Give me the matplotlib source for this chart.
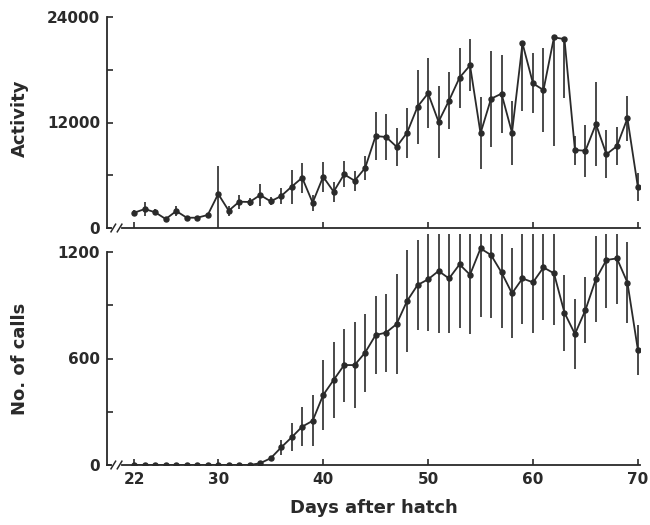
import numpy as np
import matplotlib.pyplot as plt
from matplotlib.ticker import MultipleLocator

# ------------------------------------------
# data (days 22..70)
# ------------------------------------------
DAYS = list(range(22, 71))

ACTIVITY = [1740, 2160, 1780, 1020, 1930, 1170, 1170, 1480, 3870, 1970,
            2990, 2960, 3750, 3030, 3640, 4700, 5720, 2880, 5830, 4130,
            6100, 5380, 6820, 10460, 10350, 9240, 10840, 13800, 15320, 12090,
            14500, 17100, 18500, 10770, 14700, 15280, 10840, 21000, 16450, 15690,
            21680, 21490, 8870, 8790, 11820, 8380, 9320, 12470, 4630]
ACTIVITY_ERR = [300, 800, 350, 200, 600, 100, 150, 200, 3200, 570,
                800, 450, 1250, 450, 900, 1930, 1700, 900, 1700, 1140,
                1480, 1140, 1360, 2700, 2600, 2160, 2840, 4200, 4000, 4100,
                3200, 3400, 2950, 4100, 5460, 4430, 3640, 7700, 3400, 4780,
                12300, 6700, 1650, 2960, 4780, 2730, 2160, 2600, 1600]

CALLS = [0, 0, 0, 0, 0, 0, 0, 0, 0, 0,
         0, 0, 10, 38, 99, 156, 216, 249, 394, 479,
         563, 563, 633, 732, 746, 794, 924, 1014, 1046, 1093,
         1051, 1130, 1072, 1220, 1183, 1085, 967, 1051, 1029, 1113,
         1080, 858, 738, 873, 1048, 1155, 1164, 1028, 648]
CALLS_ERR = [0, 0, 0, 0, 0, 0, 0, 0, 0, 0,
             0, 0, 0, 10, 42, 78, 108, 143, 197, 216,
             206, 242, 220, 220, 220, 282, 289, 253, 290, 350,
             310, 357, 334, 385, 353, 312, 253, 258, 287, 295,
             293, 214, 196, 188, 240, 268, 259, 230, 139]

X_TICKS = [22, 30, 40, 50, 60, 70]
ACT_TICKS = [0, 12000, 24000]
CALL_TICKS = [0, 600, 1200]

INK = '#2a2a2a'
W, H = 650, 525
XLIM = (19.4, 70.2)


def draw_break(ax):
    # the little "//" on the x axis just right of the corner
    trans = ax.get_xaxis_transform()
    hpx = ax.get_position().height * H
    dy = 3.8 / hpx
    ax.plot([20.05, 20.55], [0, 0], color='white', lw=3, transform=trans,
            clip_on=False, zorder=5)
    for x0 in (20.0, 20.6):
        ax.plot([x0 - 0.22, x0 + 0.22], [-dy, dy], color=INK, lw=1.1,
                transform=trans, clip_on=False, zorder=6)


def style_axis(ax, ytop):
    for side in ('top', 'right'):
        ax.spines[side].set_visible(False)
    for side in ('left', 'bottom'):
        ax.spines[side].set_linewidth(1.3)
        ax.spines[side].set_color(INK)
    ax.spines['left'].set_bounds(0, ytop)
    ax.tick_params(which='both', direction='in', length=4, width=1.2,
                   color=INK, labelcolor=INK, labelsize=11, pad=5)
    ax.set_xlim(*XLIM)
    ax.set_xticks(X_TICKS)
    for lab in ax.get_xticklabels() + ax.get_yticklabels():
        lab.set_fontweight('bold')


fig = plt.figure(figsize=(W / 100, H / 100), dpi=100)
ax1 = fig.add_axes([107 / W, 1 - 228 / H, 533 / W, 211 / H])
ax2 = fig.add_axes([107 / W, 1 - 465 / H, 533 / W, 230.75 / H])

# --- activity (top) ---
act = np.array(ACTIVITY)
act_err = np.array(ACTIVITY_ERR)
# upper whiskers that would run past the top of the axis are not drawn
act_err_hi = np.where(act + act_err > 24000, 0, act_err)
ax1.errorbar(DAYS, act, yerr=[act_err, act_err_hi], fmt='-o', color=INK,
             ecolor=INK, elinewidth=1.2, capsize=0, markersize=3.6, lw=1.3)
ax1.set_ylim(0, 24000)
style_axis(ax1, 24000)
ax1.set_yticks(ACT_TICKS)
ax1.yaxis.set_minor_locator(MultipleLocator(6000))
ax1.tick_params(axis='x', labelbottom=False)
ax1.set_ylabel('Activity', fontsize=13, fontweight='bold', color=INK)
ax1.yaxis.set_label_coords(-0.147, 0.52)
draw_break(ax1)

# --- number of calls (bottom) ---
ax2.errorbar(DAYS, CALLS, yerr=CALLS_ERR, fmt='-o', color=INK, ecolor=INK,
             elinewidth=1.2, capsize=0, markersize=3.6, lw=1.3)
ax2.set_ylim(0, 1300)
style_axis(ax2, 1200)
ax2.set_yticks(CALL_TICKS)
ax2.yaxis.set_minor_locator(MultipleLocator(300))
ax2.set_ylabel('No. of calls', fontsize=13, fontweight='bold', color=INK)
ax2.yaxis.set_label_coords(-0.147, 0.459)
ax2.set_xlabel('Days after hatch', fontsize=13, fontweight='bold', color=INK,
               labelpad=9)
draw_break(ax2)

fig.savefig('out.png', dpi=100, facecolor='white')
